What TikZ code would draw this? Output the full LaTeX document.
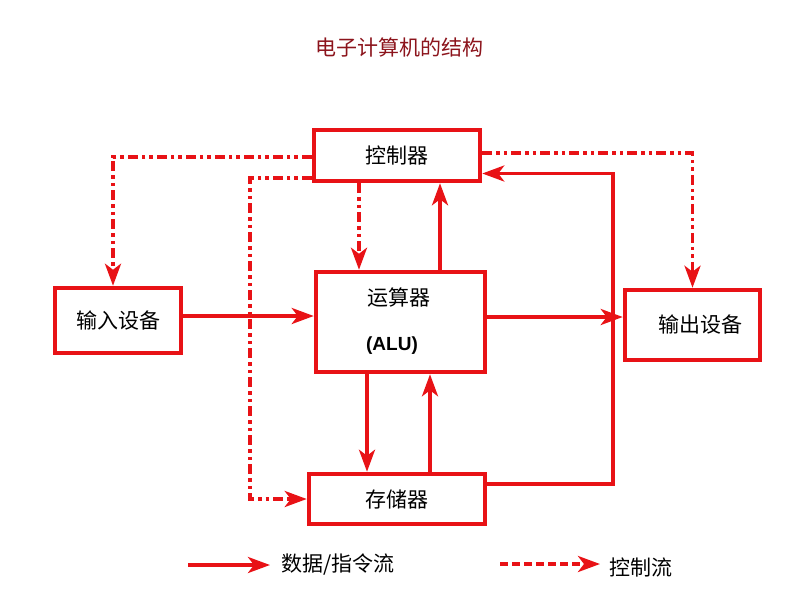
\documentclass[tikz,border=0pt]{standalone}
\usepackage{fontspec}
\newfontfamily\cjk{Noto Sans CJK SC}
\newfontfamily\arial{Liberation Sans}
\usetikzlibrary{arrows.meta}
\definecolor{linered}{RGB}{232,18,22}
\definecolor{titlered}{RGB}{140,20,28}

\begin{document}
\begin{tikzpicture}[x=1pt,y=-1pt,
	txt/.style={font=\cjk\fontsize{21}{25}\selectfont},
	unit/.style={txt, draw=linered, line width=4.5pt, fill=white, inner sep=0pt},
	data/.style={draw=linered, line width=3.6pt, -{Stealth[length=22pt,width=16pt,inset=6pt]}},
	ctl/.style={data, dash pattern=on 10pt off 4pt on 3.5pt off 4pt on 3.5pt off 4pt}]
	\useasboundingbox (0,0) rectangle (800,600);
	\node[txt, text=titlered] (title) at (399,47) {电子计算机的结构};
	\node[unit, minimum width=166pt, minimum height=51pt] (ctrl) at (397,155.5) {控制器};
	\node[unit, minimum width=126pt, minimum height=65pt] (in) at (118,320.5) {输入设备};
	\node[unit, minimum width=169pt, minimum height=100pt] (alu) at (400.5,322) {};
	\node[txt] (alutxt) at (399,298) {运算器};
	\node[font=\arial\bfseries\fontsize{19}{23}\selectfont] (alusub) at (392,346) {(ALU)};
	\node[unit, minimum width=135pt, minimum height=70pt, text width=100pt, align=right] (out) at (692.5,325) {输出设备};
	\node[unit, minimum width=176pt, minimum height=50pt] (mem) at (397,499) {存储器};
	\draw[data] ([yshift=4.5pt]in.east) -- ([yshift=6pt]alu.west);
	\draw[data] ([yshift=5pt]alu.east) -- ([yshift=8pt]out.west);
	\draw[data] ([xshift=39.5pt]alu.north) -- ([xshift=43pt]ctrl.south);
	\draw[data] ([xshift=-33.5pt]alu.south) -- ([xshift=-30pt]mem.north);
	\draw[data] ([xshift=33pt]mem.north) -- ([xshift=29.5pt]alu.south);
	\draw[data] ([yshift=15pt]mem.east) -- ++(126,0) |- ([yshift=-18pt]ctrl.east);
	\draw[ctl] ([yshift=-1.5pt]ctrl.west) -| ([xshift=-5pt]in.north);
	\draw[ctl] ([yshift=5pt]ctrl.south west) -- ++(-62,0) |- (mem.west);
	\draw[ctl] ([xshift=-38pt]ctrl.south) -- ([xshift=-41.5pt]alu.north);
	\draw[ctl] ([yshift=2.5pt]ctrl.east) -| (out.north);
	\coordinate (d0) at (188,565);
	\coordinate (d1) at (270,565);
	\draw[data] (d0) -- (d1);
	\node[txt, anchor=west] (dlab) at (278,565) {数据/指令流};
	\coordinate (c0) at (500,564);
	\coordinate (c1) at (600,564);
	\draw[data, dash pattern=on 8pt off 4pt] (c0) -- (c1);
	\node[txt, anchor=west] (clab) at (606,567) {控制流};
\end{tikzpicture}
\end{document}
